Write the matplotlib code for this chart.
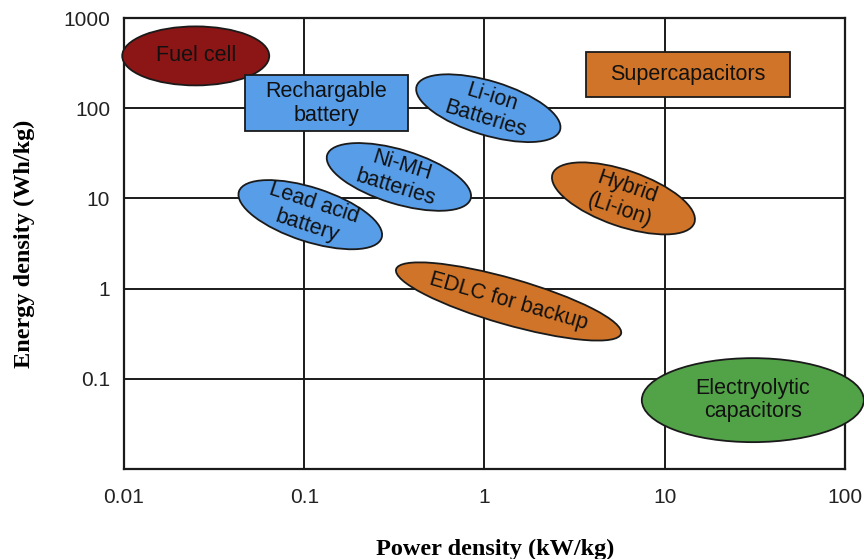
#!/usr/bin/env python3
"""Ragone plot: energy density vs power density of storage technologies."""

import matplotlib
matplotlib.use("Agg")
import matplotlib.pyplot as plt
from matplotlib.patches import Ellipse, Rectangle
from matplotlib.transforms import ScaledTranslation

plt.rcParams["font.family"] = ["Liberation Sans", "DejaVu Sans"]

# ---------------------------------------------------------------------------
# Data: centre of each region (power kW/kg, energy Wh/kg)
# ---------------------------------------------------------------------------
labels = [
    "Fuel cell",
    "Rechargable\nbattery",
    "Supercapacitors",
    "Li-ion\nBatteries",
    "Ni-MH\nbatteries",
    "Lead acid\nbattery",
    "Hybrid\n(Li-ion)",
    "EDLC for backup",
    "Electryolytic\ncapacitors",
]
power = [0.025, 0.133, 13.4, 1.05, 0.335, 0.108, 5.9, 1.36, 30.8]
energy = [380, 113, 236, 100, 17.3, 6.6, 10, 0.72, 0.058]
kind = ["ellipse", "rect", "rect", "ellipse", "ellipse", "ellipse",
        "ellipse", "ellipse", "ellipse"]
group = ["fuel", "battery", "cap", "battery", "battery", "battery",
         "cap", "cap", "electro"]

x_ticks = [0.01, 0.1, 1, 10, 100]
x_tick_labels = ["0.01", "0.1", "1", "10", "100"]
y_ticks = [0.1, 1, 10, 100, 1000]
y_tick_labels = ["0.1", "1", "10", "100", "1000"]

# ---------------------------------------------------------------------------
# Style: shape size in inches, tilt in degrees
# ---------------------------------------------------------------------------
COLORS = {"fuel": "#8c1515", "battery": "#579de8",
          "cap": "#cf7428", "electro": "#52a348"}
SIZES = [(1.47, 0.59), (1.63, 0.56), (2.04, 0.45), (1.50, 0.54),
         (1.50, 0.54), (1.50, 0.54), (1.50, 0.56), (2.34, 0.46),
         (2.22, 0.84)]
ANGLES = [0, 0, 0, -17, -17, -18, -19, -16, 0]
LINE_C = "#1a1a1a"

fig = plt.figure(figsize=(8.64, 5.59), dpi=100)
ax = fig.add_axes([124 / 864, 1 - 469 / 559, 721 / 864, 451 / 559])
ax.set_xscale("log")
ax.set_yscale("log")
ax.set_xlim(0.01, 100)
ax.set_ylim(0.01, 1000)

ax.set_xticks(x_ticks)
ax.set_xticklabels(x_tick_labels)
ax.set_yticks(y_ticks)
ax.set_yticklabels(y_tick_labels)
ax.minorticks_off()
ax.tick_params(length=0, labelsize=15, colors="#222222")
ax.tick_params(axis="x", pad=14)
ax.tick_params(axis="y", pad=10)
ax.grid(True, color=LINE_C, lw=1.4)
ax.set_axisbelow(True)
for sp in ax.spines.values():
    sp.set_color(LINE_C)
    sp.set_linewidth(1.6)

for lab, px, ey, kd, grp, (w, h), ang in zip(labels, power, energy, kind,
                                              group, SIZES, ANGLES):
    trans = fig.dpi_scale_trans + ScaledTranslation(px, ey, ax.transData)
    if kd == "rect":
        patch = Rectangle((-w / 2, -h / 2), w, h, transform=trans)
    else:
        patch = Ellipse((0, 0), w, h, angle=ang, transform=trans)
    patch.set(facecolor=COLORS[grp], edgecolor=LINE_C, lw=1.3,
              zorder=3, clip_on=False)
    ax.add_patch(patch)
    ax.text(px, ey, lab, ha="center", va="center", fontsize=15.5,
            rotation=ang, rotation_mode="anchor", color="#111111",
            linespacing=1.15, zorder=4)

label_font = dict(family=["Liberation Serif", "DejaVu Serif"],
                  fontweight="bold", fontsize=17.5)
ax.set_xlabel("Power density (kW/kg)", labelpad=21, **label_font)
ax.xaxis.set_label_coords(0.515, -0.155)
ax.set_ylabel("Energy density (Wh/kg)", labelpad=20, **label_font)

fig.savefig("out.png", dpi=100)
